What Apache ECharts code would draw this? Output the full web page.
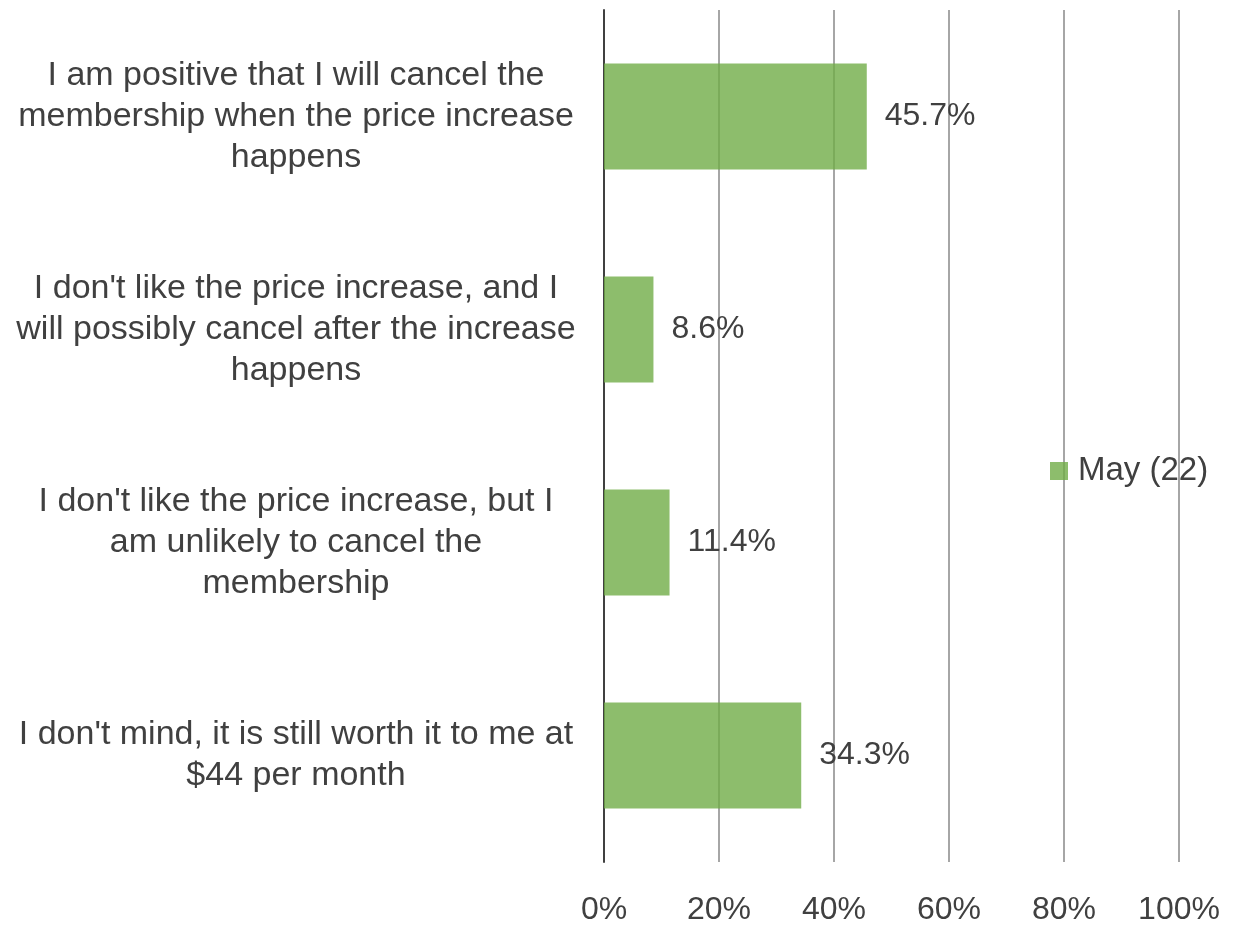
<!DOCTYPE html>
<html>
<head>
<meta charset="utf-8">
<script src="https://cdn.jsdelivr.net/npm/echarts@6/dist/echarts.min.js"></script>
<style>
  html, body { margin: 0; padding: 0; background: #ffffff; }
  #chart { width: 1236px; height: 926px; }
</style>
</head>
<body>
<div id="chart"></div>
<script>
// answer options (top to bottom)
const categories = [
  "I am positive that I will cancel the\nmembership when the price increase\nhappens",
  "I don't like the price increase, and I\nwill possibly cancel after the increase\nhappens",
  "I don't like the price increase, but I\nam unlikely to cancel the\nmembership",
  "I don't mind, it is still worth it to me at\n$44 per month"
];
const seriesName = 'May (22)';
const shares = [45.7, 8.6, 11.4, 34.3];
const xTicks = [0, 20, 40, 60, 80, 100];

const textColor = '#404040';
const fontFamily = '"Liberation Sans", Arial, sans-serif';

const chart = echarts.init(document.getElementById('chart'));

const option = {
  backgroundColor: '#ffffff',
  animation: false,
  textStyle: { fontFamily: fontFamily },
  legend: {
    data: [seriesName],
    left: 1050,
    top: 454,
    padding: 0,
    icon: 'rect',
    itemWidth: 18,
    itemHeight: 18,
    itemGap: 10,
    textStyle: {
      color: textColor,
      fontSize: 33,
      lineHeight: 34,
      padding: [0, 0, 0, 5],
      fontFamily: fontFamily,
    },
  },
  grid: {
    left: 604,
    right: 57,
    top: 10,
    bottom: 64,
    containLabel: false,
  },
  xAxis: {
    type: 'value',
    min: xTicks[0],
    max: xTicks[xTicks.length - 1],
    interval: 20,
    axisLine: { show: false },
    axisTick: { show: false },
    splitLine: {
      show: true,
      lineStyle: { color: '#a6a6a6', width: 2 },
    },
    axisLabel: {
      color: textColor,
      fontSize: 32,
      margin: 32,
      fontFamily: fontFamily,
      formatter: v => v + '%',
    },
  },
  yAxis: {
    type: 'category',
    inverse: true,
    data: categories,
    axisLine: {
      show: true,
      lineStyle: { color: '#404040', width: 2 },
    },
    axisTick: { show: false },
    axisLabel: {
      color: textColor,
      fontSize: 34,
      lineHeight: 41,
      align: 'center',
      margin: 308,
      fontFamily: fontFamily,
    },
  },
  series: [
    {
      name: seriesName,
      type: 'bar',
      data: shares,
      barWidth: 106,
      itemStyle: { color: 'rgba(112,173,71,0.8)' },
      label: {
        show: true,
        position: 'right',
        distance: 18,
        color: textColor,
        fontSize: 32,
        fontFamily: fontFamily,
        formatter: p => p.value.toFixed(1) + '%',
      },
    },
  ],
};

chart.setOption(option);
</script>
</body>
</html>
